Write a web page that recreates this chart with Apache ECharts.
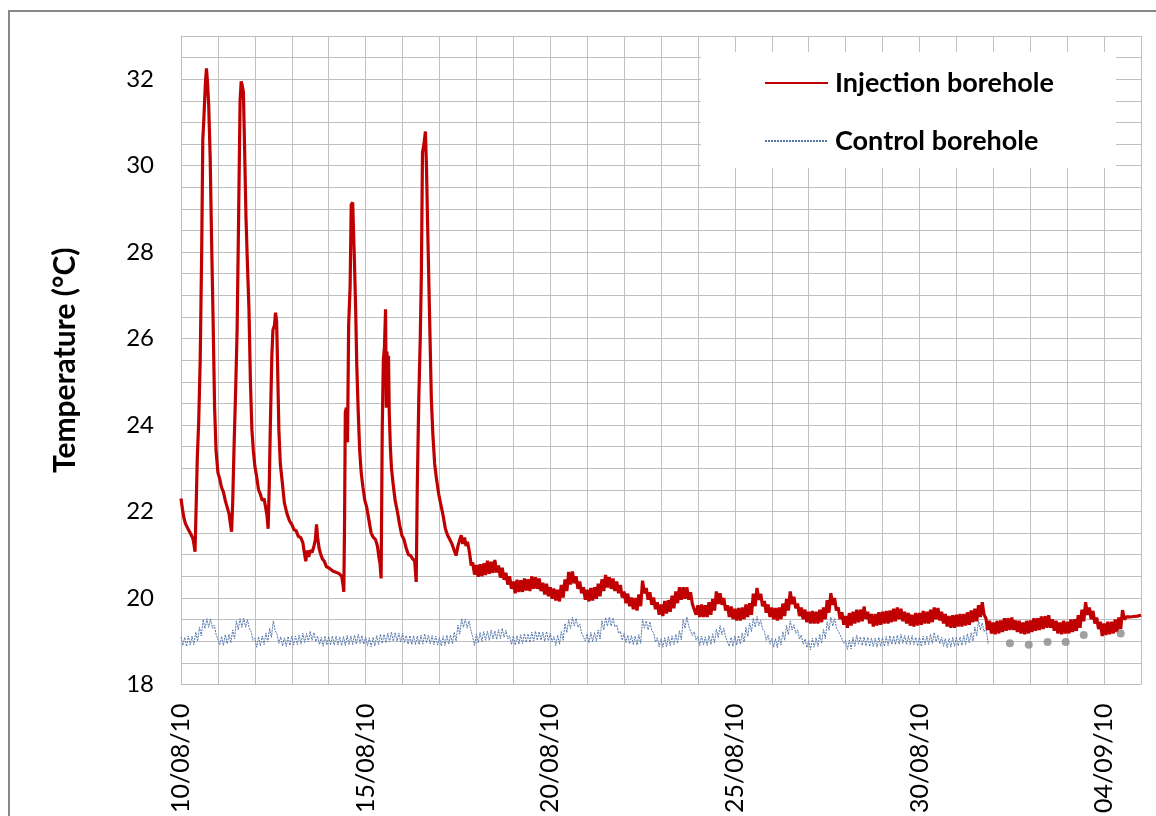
<!DOCTYPE html>
<html>
<head>
<meta charset="utf-8">
<script src="https://cdn.jsdelivr.net/npm/echarts@6/dist/echarts.min.js"></script>
<style>
html,body{margin:0;padding:0;background:#fff;}
#chart{width:1156px;height:816px;}
</style>
</head>
<body>
<div id="chart"></div>
<script>
// x values are days since 10/08/2010
const dateLabels = ['10/08/10','15/08/10','20/08/10','25/08/10','30/08/10','04/09/10'];
const seriesNames = ['Injection borehole','Control borehole'];
const yTitle = 'Temperature (°C)';

// injection borehole: injection peaks (days 0 - 7.9)
const injectionPeaks = [
[0.00,22.30],[0.04,22.05],[0.08,21.85],[0.12,21.72],[0.16,21.68],[0.20,21.58],[0.24,21.52],[0.28,21.45],[0.32,21.38],[0.35,21.25],[0.38,21.07],
[0.41,22.10],[0.44,23.20],[0.48,24.10],[0.52,25.50],[0.56,28.00],[0.59,30.60],[0.62,31.10],[0.66,31.90],[0.69,32.25],[0.72,31.90],[0.75,31.40],[0.79,30.20],[0.83,28.20],[0.87,26.40],[0.91,24.40],[0.95,23.40],
[1.00,22.90],[1.05,22.75],[1.10,22.55],[1.15,22.45],[1.20,22.25],[1.25,22.10],[1.30,21.95],[1.34,21.70],[1.37,21.53],
[1.40,22.20],[1.44,23.60],[1.48,24.80],[1.52,26.20],[1.56,28.80],[1.60,31.50],[1.63,31.95],[1.66,31.85],[1.69,31.70],[1.72,30.50],[1.76,28.80],[1.80,27.70],[1.84,26.70],[1.88,25.00],[1.92,23.90],[1.96,23.40],
[2.00,23.05],[2.05,22.80],[2.10,22.50],[2.15,22.40],[2.20,22.25],[2.25,22.30],[2.30,22.05],[2.33,21.90],[2.36,21.60],
[2.39,22.60],[2.42,24.00],[2.46,25.60],[2.49,26.20],[2.53,26.30],[2.56,26.60],[2.59,26.40],[2.62,25.20],[2.65,23.90],[2.69,23.10],[2.74,22.70],[2.80,22.20],[2.87,21.95],[2.94,21.78],
[3.00,21.70],[3.06,21.58],[3.12,21.55],[3.18,21.42],[3.24,21.40],[3.30,21.28],[3.34,21.05],[3.38,20.85],[3.42,21.10],[3.46,20.95],[3.50,21.10],[3.55,21.05],[3.60,21.20],[3.64,21.35],[3.67,21.70],[3.70,21.40],[3.74,21.15],[3.78,21.02],[3.83,20.90],[3.88,20.85],[3.94,20.72],
[4.00,20.70],[4.06,20.66],[4.12,20.62],[4.18,20.60],[4.24,20.58],[4.30,20.55],[4.35,20.50],[4.38,20.35],[4.41,20.14],
[4.43,21.80],[4.45,24.30],[4.48,24.40],[4.51,23.60],[4.54,26.30],[4.58,27.20],[4.61,29.10],[4.65,29.15],[4.68,29.18],[4.70,27.70],[4.73,26.70],[4.76,25.40],[4.80,24.30],[4.84,23.40],[4.88,22.90],[4.93,22.55],[4.98,22.25],
[5.03,22.10],[5.09,21.80],[5.15,21.50],[5.21,21.40],[5.27,21.35],[5.32,21.20],[5.36,20.95],[5.39,20.80],[5.42,20.45],
[5.45,23.90],[5.48,25.50],[5.51,25.80],[5.54,26.68],[5.56,24.40],[5.58,25.70],[5.60,24.50],[5.62,25.60],[5.64,24.30],[5.67,23.50],[5.70,23.00],[5.75,22.60],[5.80,22.25],[5.86,22.00],[5.92,21.70],[5.98,21.45],
[6.04,21.35],[6.10,21.15],[6.16,21.00],[6.22,20.98],[6.28,20.90],[6.33,20.85],[6.37,20.37],
[6.40,22.60],[6.44,24.60],[6.48,26.00],[6.51,27.50],[6.54,30.30],[6.58,30.50],[6.62,30.79],[6.65,29.90],[6.68,28.60],[6.71,27.40],[6.74,26.20],[6.78,24.60],[6.82,23.80],[6.87,23.10],[6.92,22.75],[6.98,22.40],
[7.04,22.15],[7.10,21.90],[7.16,21.60],[7.22,21.45],[7.28,21.35],[7.34,21.25],[7.40,21.10],[7.45,20.98],[7.50,21.20],[7.55,21.35],[7.59,21.45],[7.63,21.25],[7.68,21.40],[7.72,21.20],[7.76,21.30],[7.81,21.07],[7.86,20.75]
];

// injection borehole: noisy recovery band (days 7.9 - 26), read as alternating band top / bottom
const injectionTail = [
[7.90,20.82],[7.95,20.54],[8.00,20.76],[8.05,20.49],[8.10,20.78],[8.15,20.50],[8.20,20.80],[8.25,20.53],[8.30,20.86],[8.35,20.56],[8.40,20.84],[8.45,20.58],[8.50,20.88],[8.55,20.59],[8.60,20.75],[8.65,20.47],[8.70,20.70],[8.75,20.42],[8.80,20.58],[8.85,20.31],[8.90,20.50],[8.95,20.21],
[9.00,20.38],[9.05,20.11],[9.10,20.42],[9.15,20.14],[9.20,20.41],[9.25,20.14],[9.30,20.45],[9.35,20.17],[9.40,20.43],[9.45,20.16],[9.50,20.50],[9.55,20.21],[9.60,20.48],[9.65,20.21],[9.70,20.45],[9.75,20.16],[9.80,20.35],[9.85,20.08],[9.90,20.33],[9.95,20.04],
[10.00,20.25],[10.05,19.98],[10.10,20.22],[10.15,19.94],[10.20,20.19],[10.25,19.92],[10.30,20.30],[10.35,20.01],[10.40,20.43],[10.45,20.16],[10.50,20.60],[10.55,20.31],[10.60,20.61],[10.65,20.34],[10.70,20.50],[10.75,20.21],[10.80,20.38],[10.85,20.11],[10.90,20.25],[10.95,19.96],
[11.00,20.19],[11.05,19.92],[11.10,20.23],[11.15,19.94],[11.20,20.25],[11.25,19.98],[11.30,20.33],[11.35,20.04],[11.40,20.43],[11.45,20.16],[11.50,20.53],[11.55,20.24],[11.60,20.48],[11.65,20.21],[11.70,20.45],[11.75,20.16],[11.80,20.38],[11.85,20.11],[11.90,20.30],[11.95,20.01],
[12.00,20.15],[12.05,19.88],[12.10,20.10],[12.15,19.81],[12.20,20.01],[12.25,19.74],[12.30,20.00],[12.35,19.71],[12.40,20.08],[12.45,19.81],[12.50,20.40],[12.55,20.11],[12.60,20.23],[12.65,19.96],[12.70,20.13],[12.75,19.84],[12.80,20.01],[12.85,19.74],[12.90,19.90],[12.95,19.61],
[13.00,19.85],[13.05,19.58],[13.10,19.93],[13.15,19.64],[13.20,19.95],[13.25,19.68],[13.30,20.05],[13.35,19.76],[13.40,20.15],[13.45,19.88],[13.50,20.25],[13.55,19.96],[13.60,20.25],[13.65,19.98],[13.70,20.25],[13.75,19.96],[13.80,20.13],[13.85,19.86],[13.90,19.90],[13.95,19.61],
[14.00,19.83],[14.05,19.56],[14.10,19.85],[14.15,19.56],[14.20,19.83],[14.25,19.56],[14.30,19.90],[14.35,19.61],[14.40,19.98],[14.45,19.71],[14.50,20.15],[14.55,19.86],[14.60,20.11],[14.65,19.84],[14.70,20.00],[14.75,19.71],[14.80,19.83],[14.85,19.56],[14.90,19.80],[14.95,19.51],
[15.00,19.75],[15.05,19.48],[15.10,19.77],[15.15,19.48],[15.20,19.78],[15.25,19.51],[15.30,19.85],[15.35,19.56],[15.40,19.88],[15.45,19.61],[15.50,20.10],[15.55,19.81],[15.60,20.23],[15.65,19.96],[15.70,20.10],[15.75,19.81],[15.80,19.93],[15.85,19.66],[15.90,19.85],[15.95,19.56],
[16.00,19.78],[16.05,19.51],[16.10,19.77],[16.15,19.48],[16.20,19.78],[16.25,19.51],[16.30,19.87],[16.35,19.58],[16.40,19.98],[16.45,19.71],[16.50,20.15],[16.55,19.86],[16.60,20.03],[16.65,19.76],[16.70,19.87],[16.75,19.58],[16.80,19.78],[16.85,19.51],[16.90,19.73],[16.95,19.44],
[17.00,19.68],[17.05,19.41],[17.10,19.70],[17.15,19.41],[17.20,19.68],[17.25,19.41],[17.30,19.73],[17.35,19.44],[17.40,19.78],[17.45,19.51],[17.50,19.95],[17.55,19.66],[17.60,20.11],[17.65,19.84],[17.70,20.00],[17.75,19.71],[17.80,19.78],[17.85,19.51],[17.90,19.67],[17.95,19.38],
[18.00,19.58],[18.05,19.31],[18.10,19.65],[18.15,19.36],[18.20,19.68],[18.25,19.41],[18.30,19.73],[18.35,19.44],[18.40,19.73],[18.45,19.46],[18.50,19.80],[18.55,19.51],[18.60,19.68],[18.65,19.41],[18.70,19.63],[18.75,19.34],[18.80,19.63],[18.85,19.36],[18.90,19.67],[18.95,19.38],
[19.00,19.68],[19.05,19.41],[19.10,19.70],[19.15,19.41],[19.20,19.71],[19.25,19.44],[19.30,19.75],[19.35,19.46],[19.40,19.78],[19.45,19.51],[19.50,19.75],[19.55,19.46],[19.60,19.68],[19.65,19.41],[19.70,19.65],[19.75,19.36],[19.80,19.61],[19.85,19.34],[19.90,19.65],[19.95,19.36],
[20.00,19.65],[20.05,19.38],[20.10,19.70],[20.15,19.41],[20.20,19.68],[20.25,19.41],[20.30,19.73],[20.35,19.44],[20.40,19.78],[20.45,19.51],[20.50,19.77],[20.55,19.48],[20.60,19.68],[20.65,19.41],[20.70,19.63],[20.75,19.34],[20.80,19.58],[20.85,19.31],[20.90,19.60],[20.95,19.31],
[21.00,19.61],[21.05,19.34],[21.10,19.63],[21.15,19.34],[21.20,19.63],[21.25,19.36],[21.30,19.67],[21.35,19.38],[21.40,19.71],[21.45,19.44],[21.50,19.75],[21.55,19.46],[21.60,19.83],[21.65,19.56],[21.70,19.90],[21.75,19.61],[21.80,19.53],[21.85,19.26],[21.90,19.47],[21.95,19.18],
[22.00,19.43],[22.05,19.16],[22.10,19.47],[22.15,19.18],[22.20,19.48],[22.25,19.21],[22.30,19.53],[22.35,19.24],[22.40,19.53],[22.45,19.26],[22.50,19.55],[22.55,19.26],[22.60,19.48],[22.65,19.21],[22.70,19.47],[22.75,19.18],[22.80,19.43],[22.85,19.16],[22.90,19.47],[22.95,19.18],
[23.00,19.48],[23.05,19.21],[23.10,19.53],[23.15,19.24],[23.20,19.53],[23.25,19.26],[23.30,19.57],[23.35,19.28],[23.40,19.58],[23.45,19.31],[23.50,19.60],[23.55,19.31],[23.60,19.51],[23.65,19.24],[23.70,19.47],[23.75,19.18],[23.80,19.43],[23.85,19.16],[23.90,19.47],[23.95,19.18],
[24.00,19.45],[24.05,19.18],[24.10,19.50],[24.15,19.21],[24.20,19.51],[24.25,19.24],[24.30,19.60],[24.35,19.31],[24.40,19.73],[24.45,19.46],[24.50,19.90],[24.55,19.61],[24.60,19.78],[24.65,19.51],[24.70,19.70],[24.75,19.41],[24.80,19.55],[24.85,19.28],[24.90,19.45],[24.95,19.12],
[25.00,19.41],[25.05,19.14],[25.10,19.45],[25.15,19.16],[25.20,19.45],[25.25,19.18],[25.30,19.50],[25.35,19.21],[25.40,19.55],[25.45,19.28],[25.50,19.72],[25.55,19.50],[25.60,19.56],[25.70,19.56],[25.80,19.57],[25.90,19.58],[26.00,19.60]
];

// control borehole (logger ends on day 21.86), read as alternating band top / bottom
const control = [
[0.00,19.10],[0.05,18.90],[0.10,19.09],[0.15,18.88],[0.20,19.12],[0.25,18.91],[0.30,19.12],[0.35,18.92],[0.40,19.21],[0.45,19.00],[0.50,19.32],[0.55,19.12],[0.60,19.50],[0.65,19.29],[0.70,19.52],[0.75,19.32],[0.80,19.51],[0.85,19.30],[0.90,19.37],[0.95,19.16],
[1.00,19.12],[1.05,18.92],[1.10,19.11],[1.15,18.90],[1.20,19.15],[1.25,18.94],[1.30,19.16],[1.35,18.96],[1.40,19.26],[1.45,19.05],[1.50,19.47],[1.55,19.26],[1.60,19.52],[1.65,19.32],[1.70,19.53],[1.75,19.32],[1.80,19.50],[1.85,19.29],[1.90,19.22],[1.95,19.02],
[2.00,19.07],[2.05,18.86],[2.10,19.10],[2.15,18.89],[2.20,19.12],[2.25,18.92],[2.30,19.19],[2.35,18.98],[2.40,19.30],[2.45,19.09],[2.50,19.47],[2.55,19.25],[2.60,19.16],[2.65,18.95],[2.70,19.10],[2.75,18.89],[2.80,19.08],[2.85,18.88],[2.90,19.11],[2.95,18.90],
[3.00,19.12],[3.05,18.91],[3.10,19.12],[3.15,18.92],[3.20,19.14],[3.25,18.93],[3.30,19.18],[3.35,18.97],[3.40,19.18],[3.45,18.98],[3.50,19.23],[3.55,19.02],[3.60,19.20],[3.65,18.99],[3.70,19.12],[3.75,18.92],[3.80,19.09],[3.85,18.88],[3.90,19.12],[3.95,18.91],
[4.00,19.11],[4.05,18.91],[4.10,19.12],[4.15,18.91],[4.20,19.12],[4.25,18.91],[4.30,19.10],[4.35,18.90],[4.40,19.11],[4.45,18.90],[4.50,19.13],[4.55,18.92],[4.60,19.12],[4.65,18.92],[4.70,19.14],[4.75,18.93],[4.80,19.16],[4.85,18.95],[4.90,19.13],[4.95,18.93],
[5.00,19.10],[5.05,18.89],[5.10,19.08],[5.15,18.87],[5.20,19.09],[5.25,18.89],[5.30,19.13],[5.35,18.92],[5.40,19.16],[5.45,18.95],[5.50,19.16],[5.55,18.96],[5.60,19.19],[5.65,18.98],[5.70,19.21],[5.75,19.00],[5.80,19.20],[5.85,19.00],[5.90,19.19],[5.95,18.98],
[6.00,19.18],[6.05,18.97],[6.10,19.13],[6.15,18.93],[6.20,19.13],[6.25,18.92],[6.30,19.13],[6.35,18.92],[6.40,19.12],[6.45,18.92],[6.50,19.14],[6.55,18.93],[6.60,19.17],[6.65,18.96],[6.70,19.14],[6.75,18.94],[6.80,19.13],[6.85,18.92],[6.90,19.12],[6.95,18.91],
[7.00,19.09],[7.05,18.89],[7.10,19.11],[7.15,18.90],[7.20,19.14],[7.25,18.93],[7.30,19.14],[7.35,18.94],[7.40,19.21],[7.45,19.00],[7.50,19.37],[7.55,19.16],[7.60,19.52],[7.65,19.32],[7.70,19.51],[7.75,19.30],[7.80,19.47],[7.85,19.26],[7.90,19.10],[7.95,18.90],
[8.00,19.17],[8.05,18.96],[8.10,19.20],[8.15,18.99],[8.20,19.22],[8.25,19.02],[8.30,19.23],[8.35,19.02],[8.40,19.26],[8.45,19.05],[8.50,19.24],[8.55,19.04],[8.60,19.27],[8.65,19.06],[8.70,19.30],[8.75,19.09],[8.80,19.25],[8.85,19.05],[8.90,19.13],[8.95,18.92],
[9.00,19.12],[9.05,18.91],[9.10,19.13],[9.15,18.93],[9.20,19.15],[9.25,18.94],[9.30,19.18],[9.35,18.97],[9.40,19.17],[9.45,18.97],[9.50,19.21],[9.55,19.00],[9.60,19.23],[9.65,19.02],[9.70,19.22],[9.75,19.02],[9.80,19.21],[9.85,19.00],[9.90,19.22],[9.95,19.01],
[10.00,19.18],[10.05,18.98],[10.10,19.11],[10.15,18.90],[10.20,19.14],[10.25,18.93],[10.30,19.22],[10.35,19.02],[10.40,19.41],[10.45,19.20],[10.50,19.50],[10.55,19.29],[10.60,19.55],[10.65,19.35],[10.70,19.53],[10.75,19.32],[10.80,19.40],[10.85,19.19],[10.90,19.20],[10.95,19.00],
[11.00,19.17],[11.05,18.96],[11.10,19.20],[11.15,18.99],[11.20,19.20],[11.25,19.00],[11.30,19.26],[11.35,19.05],[11.40,19.47],[11.45,19.26],[11.50,19.55],[11.55,19.35],[11.60,19.56],[11.65,19.35],[11.70,19.54],[11.75,19.33],[11.80,19.38],[11.85,19.18],[11.90,19.23],[11.95,19.02],
[12.00,19.18],[12.05,18.97],[12.10,19.14],[12.15,18.94],[12.20,19.13],[12.25,18.92],[12.30,19.12],[12.35,18.91],[12.40,19.15],[12.45,18.95],[12.50,19.51],[12.55,19.30],[12.60,19.47],[12.65,19.26],[12.70,19.45],[12.75,19.25],[12.80,19.19],[12.85,18.98],[12.90,19.08],[12.95,18.87],
[13.00,19.06],[13.05,18.86],[13.10,19.08],[13.15,18.87],[13.20,19.11],[13.25,18.90],[13.30,19.12],[13.35,18.92],[13.40,19.16],[13.45,18.95],[13.50,19.24],[13.55,19.03],[13.60,19.50],[13.65,19.30],[13.70,19.56],[13.75,19.35],[13.80,19.34],[13.85,19.13],[13.90,19.22],[13.95,19.02],
[14.00,19.11],[14.05,18.90],[14.10,19.12],[14.15,18.91],[14.20,19.10],[14.25,18.90],[14.30,19.13],[14.35,18.92],[14.40,19.17],[14.45,18.96],[14.50,19.28],[14.55,19.08],[14.60,19.36],[14.65,19.15],[14.70,19.30],[14.75,19.09],[14.80,19.08],[14.85,18.88],[14.90,19.09],[14.95,18.88],
[15.00,19.12],[15.05,18.91],[15.10,19.13],[15.15,18.93],[15.20,19.19],[15.25,18.98],[15.30,19.32],[15.35,19.11],[15.40,19.42],[15.45,19.22],[15.50,19.53],[15.55,19.32],[15.60,19.57],[15.65,19.36],[15.70,19.48],[15.75,19.28],[15.80,19.23],[15.85,19.02],[15.90,19.14],[15.95,18.93],
[16.00,19.06],[16.05,18.86],[16.10,19.06],[16.15,18.85],[16.20,19.12],[16.25,18.91],[16.30,19.22],[16.35,19.02],[16.40,19.36],[16.45,19.15],[16.50,19.47],[16.55,19.26],[16.60,19.38],[16.65,19.18],[16.70,19.26],[16.75,19.05],[16.80,19.14],[16.85,18.93],[16.90,19.05],[16.95,18.85],
[17.00,19.01],[17.05,18.80],[17.10,19.07],[17.15,18.86],[17.20,19.08],[17.25,18.88],[17.30,19.16],[17.35,18.95],[17.40,19.27],[17.45,19.06],[17.50,19.45],[17.55,19.25],[17.60,19.56],[17.65,19.35],[17.70,19.52],[17.75,19.31],[17.80,19.35],[17.85,19.15],[17.90,19.16],[17.95,18.95],
[18.00,19.02],[18.05,18.81],[18.10,19.02],[18.15,18.82],[18.20,19.09],[18.25,18.88],[18.30,19.14],[18.35,18.93],[18.40,19.10],[18.45,18.90],[18.50,19.10],[18.55,18.89],[18.60,19.09],[18.65,18.88],[18.70,19.07],[18.75,18.87],[18.80,19.07],[18.85,18.86],[18.90,19.09],[18.95,18.88],
[19.00,19.08],[19.05,18.88],[19.10,19.11],[19.15,18.90],[19.20,19.13],[19.25,18.92],[19.30,19.12],[19.35,18.92],[19.40,19.14],[19.45,18.93],[19.50,19.16],[19.55,18.95],[19.60,19.13],[19.65,18.93],[19.70,19.13],[19.75,18.92],[19.80,19.13],[19.85,18.92],[19.90,19.09],[19.95,18.89],
[20.00,19.09],[20.05,18.88],[20.10,19.12],[20.15,18.91],[20.20,19.12],[20.25,18.92],[20.30,19.16],[20.35,18.95],[20.40,19.20],[20.45,18.99],[20.50,19.14],[20.55,18.94],[20.60,19.09],[20.65,18.88],[20.70,19.06],[20.75,18.85],[20.80,19.06],[20.85,18.86],[20.90,19.09],[20.95,18.88],
[21.00,19.10],[21.05,18.89],[21.10,19.10],[21.15,18.90],[21.20,19.13],[21.25,18.92],[21.30,19.17],[21.35,18.96],[21.40,19.20],[21.45,19.00],[21.50,19.33],[21.55,19.12],[21.60,19.47],[21.65,19.26],[21.70,19.42],[21.75,19.22],[21.80,19.31],[21.84,19.10],[21.86,18.92]
];

// separate readings of the control borehole after the logger stopped
const manualReadings = [[22.45,18.95],[22.96,18.92],[23.47,18.98],[23.96,18.98],[24.45,19.14],[25.45,19.18]];

const injection = injectionPeaks.concat(injectionTail);

const chart = echarts.init(document.getElementById('chart'), null, {renderer:'canvas'});
const FONT = 'Lato';
chart.setOption({
  animation: false,
  backgroundColor: '#ffffff',
  grid: {left: 181, top: 36, width: 960, height: 650, containLabel: false},
  graphic: [
    {type:'rect', z: 0, shape:{x:9, y:11, width:1170, height:830}, style:{fill:'none', stroke:'#878787', lineWidth:2}},
    {type:'rect', z: 3, shape:{x:701, y:52, width:415, height:116}, style:{fill:'#ffffff'}}
  ],
  legend: {
    orient: 'vertical', left: 764, top: 68, padding: 0,
    itemWidth: 63, itemHeight: 30, itemGap: 28,
    data: seriesNames,
    itemStyle: {color: 'rgba(0,0,0,0)', borderWidth: 0, borderColor: 'rgba(0,0,0,0)'},
    textStyle: {fontFamily: FONT, fontSize: 27, fontWeight: 'bold', color: '#000', lineHeight: 30, padding:[0,0,0,2]},
    selectedMode: false
  },
  xAxis: {
    type: 'value', min: 0, max: 26, interval: 1,
    axisLine: {show: true, lineStyle: {color: '#bdbdbd', width: 1}},
    axisTick: {show: false},
    splitLine: {show: true, lineStyle: {color: '#c0c0c0', width: 1}},
    axisLabel: {
      rotate: 90, margin: 19, fontFamily: FONT, fontSize: 25, color: '#000',
      formatter: function (v) { return (v % 5 === 0 && v / 5 < dateLabels.length) ? dateLabels[v / 5] : ''; }
    }
  },
  yAxis: {
    type: 'value', min: 18, max: 33, interval: 0.5,
    name: yTitle, nameLocation: 'middle', nameGap: 101,
    nameTextStyle: {fontFamily: FONT, fontSize: 30, fontWeight: 'bold', color: '#000'},
    axisLine: {show: true, lineStyle: {color: '#bdbdbd', width: 1}},
    axisTick: {show: false},
    splitLine: {show: true, lineStyle: {color: '#c0c0c0', width: 1}},
    axisLabel: {
      margin: 27, fontFamily: FONT, fontSize: 24, color: '#000',
      formatter: function (v) { return (v % 2 === 0 && v < 33) ? String(v) : ''; }
    }
  },
  series: [
    {name: seriesNames[0], type: 'line', data: injection, symbol: 'none', z: 5,
     lineStyle: {color: '#c00000', width: 3.2}, itemStyle: {color: '#c00000'}},
    {name: seriesNames[1], type: 'line', data: control, symbol: 'none', z: 4,
     lineStyle: {color: '#5577aa', width: 1, type: [2, 1]}, itemStyle: {color: '#5577aa'}},
    {name: 'Manual readings', type: 'scatter', data: manualReadings, symbol: 'circle', symbolSize: 8, z: 6,
     itemStyle: {color: '#8a8a8a'}}
  ]
});
</script>
</body>
</html>
